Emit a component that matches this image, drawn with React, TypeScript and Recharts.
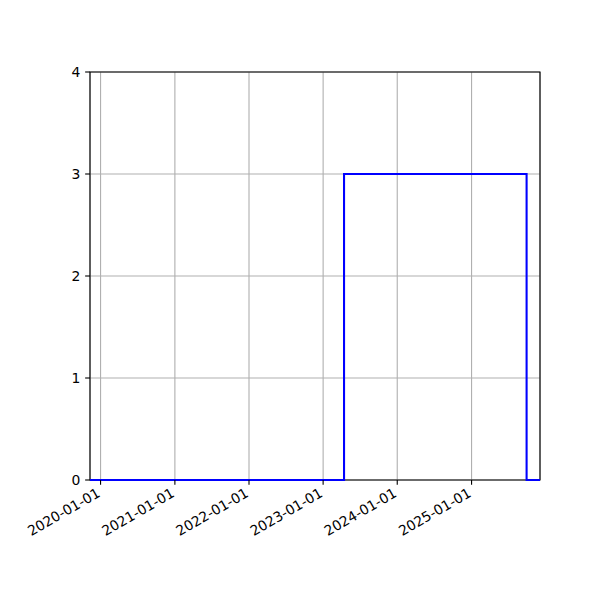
import React from "react";
import { LineChart, Line, XAxis, YAxis, CartesianGrid, ReferenceArea } from "recharts";

// Step series (value changes at each date, held until next date)
const stepDates = ["2019-11-10", "2023-04-14", "2025-09-29", "2025-12-04"];
const stepValues = [0, 3, 0, 0];

const xTickLabels = ["2020-01-01", "2021-01-01", "2022-01-01", "2023-01-01", "2024-01-01", "2025-01-01"];
const yTicks = [0, 1, 2, 3, 4];

const toTs = (d: string) => Date.parse(d + "T00:00:00Z");

const data = stepDates.map((d, i) => ({ t: toTs(d), v: stepValues[i] }));
const xDomain = [toTs(stepDates[0]), toTs(stepDates[stepDates.length - 1])];
const xTicks = xTickLabels.map(toTs);

const fmt = (t: number) => new Date(t).toISOString().slice(0, 10);

const FONT = "'DejaVu Sans', sans-serif";
const PT = 100 / 72;

const DateTick = (props: any) => {
  const { x, y, payload } = props;
  const ax = x + 0.5;
  const ay = y + 6.2;
  return (
    <text
      x={ax}
      y={ay}
      textAnchor="end"
      fontFamily={FONT}
      fontSize={13.9}
      fill="#000"
      transform={`rotate(-30 ${ax} ${ay})`}
    >
      {fmt(payload.value)}
    </text>
  );
};

const NumTick = (props: any) => {
  const { x, y, payload } = props;
  return (
    <text x={x} y={y} dy="0.36em" textAnchor="end" fontFamily={FONT} fontSize={13.9} fill="#000">
      {payload.value}
    </text>
  );
};

export default function App() {
  return (
    <div style={{ position: "absolute", left: 0, top: 0, width: 600, height: 600, background: "#fff" }}>
      <LineChart width={600} height={600} data={data} margin={{ top: 72, right: 60, bottom: 0, left: 0 }}>
        <CartesianGrid stroke="#b0b0b0" strokeWidth={0.8 * PT} />
        <XAxis
          dataKey="t"
          type="number"
          scale="time"
          domain={xDomain}
          allowDataOverflow
          ticks={xTicks}
          interval={0}
          height={120}
          tick={<DateTick />}
          tickSize={3.5 * PT}
          tickMargin={3.5 * PT}
          tickLine={{ stroke: "#000", strokeWidth: 0.8 * PT }}
          axisLine={false}
        />
        <YAxis
          type="number"
          domain={[0, 4]}
          ticks={yTicks}
          interval={0}
          width={90}
          tick={<NumTick />}
          tickSize={3.5 * PT}
          tickMargin={3.5 * PT}
          tickLine={{ stroke: "#000", strokeWidth: 0.8 * PT }}
          axisLine={false}
        />
        <Line
          type="stepAfter"
          dataKey="v"
          stroke="#0000ff"
          strokeWidth={1.5 * PT}
          dot={false}
          activeDot={false}
          isAnimationActive={false}
        />
        <ReferenceArea
          x1={xDomain[0]}
          x2={xDomain[1]}
          y1={0}
          y2={4}
          fill="none"
          stroke="#000"
          strokeWidth={0.8 * PT}
          ifOverflow="visible"
        />
      </LineChart>
    </div>
  );
}
